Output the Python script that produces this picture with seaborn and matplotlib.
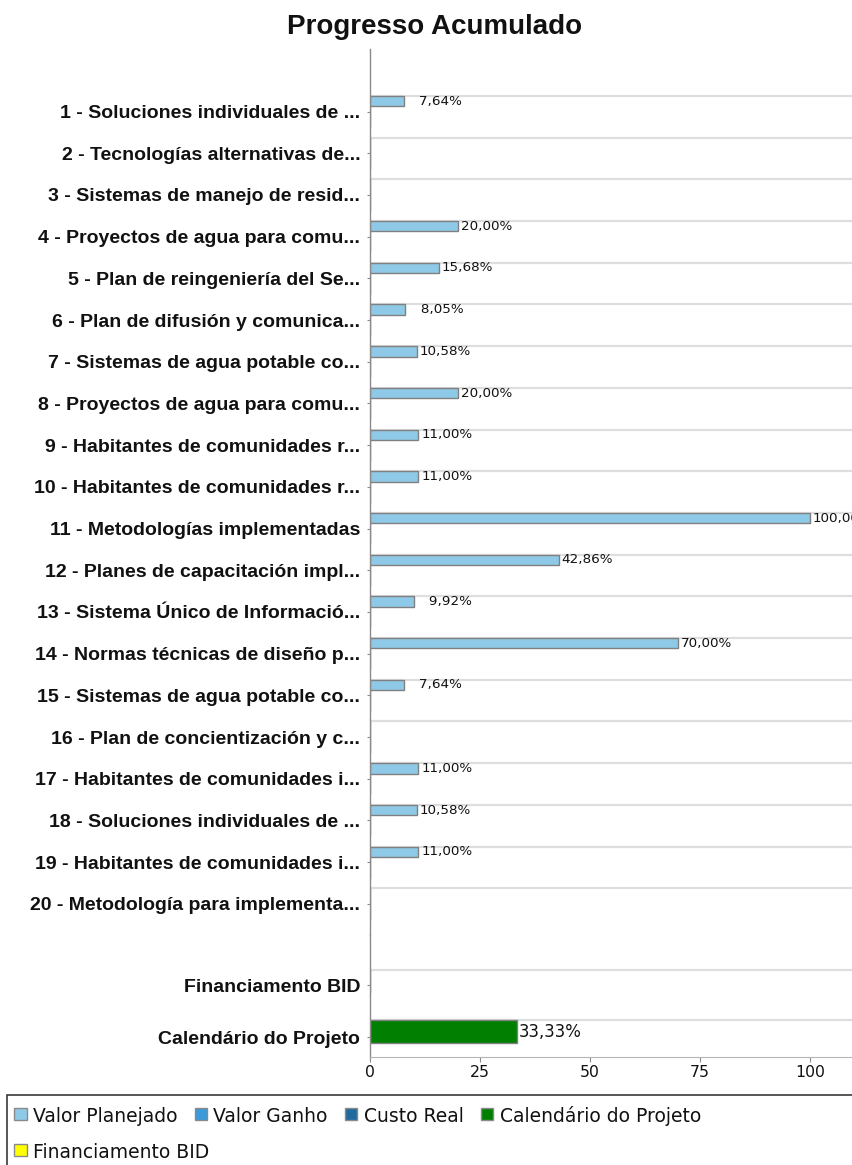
import numpy as np
import pandas as pd
import matplotlib
matplotlib.use("Agg")
import matplotlib.pyplot as plt
from matplotlib.patches import Rectangle
import seaborn as sns

# ---------------- data ----------------
categories = [
    "1 - Soluciones individuales de ...",
    "2 - Tecnologías alternativas de...",
    "3 - Sistemas de manejo de resid...",
    "4 - Proyectos de agua para comu...",
    "5 - Plan de reingeniería del Se...",
    "6 - Plan de difusión y comunica...",
    "7 - Sistemas de agua potable co...",
    "8 - Proyectos de agua para comu...",
    "9 - Habitantes de comunidades r...",
    "10 - Habitantes de comunidades r...",
    "11 - Metodologías implementadas",
    "12 - Planes de capacitación impl...",
    "13 - Sistema Único de Informació...",
    "14 - Normas técnicas de diseño p...",
    "15 - Sistemas de agua potable co...",
    "16 - Plan de concientización y c...",
    "17 - Habitantes de comunidades i...",
    "18 - Soluciones individuales de ...",
    "19 - Habitantes de comunidades i...",
    "20 - Metodología para implementa...",
]
valor_planejado = [7.64, 0, 0, 20.00, 15.68, 8.05, 10.58, 20.00, 11.00, 11.00,
                   100.00, 42.86, 9.92, 70.00, 7.64, 0, 11.00, 10.58, 11.00, 0]
valor_ganho = [0, 0, 0, 0, 0, 0, 0, 0, 0, 0, 0, 0, 0, 0, 0, 0, 0, 0, 0, 0]
custo_real = [0, 0, 0, 0, 0, 0, 0, 0, 0, 0, 0, 0, 0, 0, 0, 0, 0, 0, 0, 0]
series_names = ["Valor Planejado", "Valor Ganho", "Custo Real"]

bid_label = ["Financiamento BID"]
bid_value = [0]
calendario_label = ["Calendário do Projeto"]
calendario_value = [33.33]

x_ticks = [0, 25, 50, 75, 100]
title = "Progresso Acumulado"

# ---------------- style ----------------
col_planejado = "#8ecae8"
col_ganho = "#3b9ad9"
col_custo = "#1f6b9e"
col_cal = "#007f00"
col_bid = "#ffff00"
edge = "#808080"
grid_col = "#dedede"
spine_col = "#8a8a8a"

sns.set_style("white")
plt.rcParams["font.family"] = ["DejaVu Sans"]

W, H = 852, 1165
fig = plt.figure(figsize=(W / 100, H / 100), dpi=100)

def axpos(top, bottom, left=370, right=852):
    return [left / W, 1 - bottom / H, (right - left) / W, (bottom - top) / H]

ax1 = fig.add_axes(axpos(49, 935))
ax2 = fig.add_axes(axpos(935, 995))
ax3 = fig.add_axes(axpos(995, 1057))

XMAX = (852 - 370) / 4.4

# main subplot
df = pd.DataFrame({
    "categoria": categories * 3,
    "serie": [series_names[0]] * len(categories) + [series_names[1]] * len(categories)
             + [series_names[2]] * len(categories),
    "valor": valor_planejado + valor_ganho + custo_real,
})
sns.barplot(data=df, y="categoria", x="valor", hue="serie", hue_order=series_names,
            order=categories, palette=[col_planejado, col_ganho, col_custo],
            orient="h", width=0.75, dodge=True, saturation=1, errorbar=None,
            edgecolor=edge, linewidth=1, legend=False, ax=ax1)

def fmt(v):
    if v == 0:
        return ""
    s = f"{v:.2f}".replace(".", ",") + "%"
    if v < 10:
        s = "\u2007 " + s
    return s

ax1.bar_label(ax1.containers[0], labels=[fmt(v) for v in valor_planejado],
              padding=2, fontsize=9.7, color="#111111")

n = len(categories)
ax1.set_ylim(n - 1 + 0.746, -1.501)
ax1.set_yticks(np.arange(n) - 0.375, minor=True)

sns.barplot(x=bid_value, y=bid_label, color=col_bid, orient="h", width=0.5,
            saturation=1, errorbar=None, edgecolor=edge, linewidth=1, ax=ax2)
ax2.set_ylim(0.293, -1.011)
ax2.set_yticks([0.076], bid_label)
ax2.set_yticks([-0.25], minor=True)

sns.barplot(x=calendario_value, y=calendario_label, color=col_cal, orient="h", width=0.5,
            saturation=1, errorbar=None, edgecolor=edge, linewidth=1, ax=ax3)
ax3.bar_label(ax3.containers[0],
              labels=[f"{v:.2f}".replace(".", ",") + "%" for v in calendario_value],
              padding=1.5, fontsize=11.9, color="#111111")
ax3.set_ylim(0.554, -0.793)
ax3.set_yticks([0.12], calendario_label)
ax3.set_yticks([-0.25], minor=True)

for ax in (ax1, ax2, ax3):
    ax.set_xlim(0, XMAX)
    ax.set_xlabel("")
    ax.set_ylabel("")
    ax.set_facecolor("white")
    ax.grid(False)
    ax.grid(which="minor", axis="y", color=grid_col, lw=1.6)
    ax.set_axisbelow(True)
    for s in ("top", "right", "bottom"):
        ax.spines[s].set_visible(False)
    ax.spines["left"].set_color(spine_col)
    ax.spines["left"].set_linewidth(1)
    ax.tick_params(axis="y", which="major", left=True, length=2.5, width=0.8,
                   color=spine_col, pad=4.5)
    ax.tick_params(axis="y", which="minor", left=False, length=0)
    for lbl in ax.get_yticklabels():
        lbl.set_fontfamily(["Liberation Sans", "DejaVu Sans"])
        lbl.set_fontweight("bold")
        lbl.set_fontsize(14.0)
        lbl.set_color("#111111")
    if ax is not ax3:
        ax.tick_params(axis="x", bottom=False, labelbottom=False)

ax3.spines["bottom"].set_visible(True)
ax3.spines["bottom"].set_color("#b5b5b5")
ax3.set_xticks(x_ticks)
ax3.tick_params(axis="x", bottom=True, length=3.6, width=0.8, color=spine_col,
                labelsize=11.3, pad=2, labelcolor="#111111")

# title
fig.text(435 / W, 1 - 27 / H, title, ha="center", va="center", fontsize=20,
         fontweight="bold", family=["Liberation Sans", "DejaVu Sans"], color="#111111")

# legend (custom, JFreeChart style)
def fx(x):
    return x / W

def fy(y):
    return 1 - y / H

fig.patches.append(Rectangle((fx(7), fy(1185)), (875 - 7) / W, (1185 - 1095) / H,
                             transform=fig.transFigure, fill=False, edgecolor="#3a3a3a",
                             lw=1.2, clip_on=False))
legend_rows = [
    [(series_names[0], col_planejado), (series_names[1], col_ganho),
     (series_names[2], col_custo), (calendario_label[0], col_cal)],
    [(bid_label[0], col_bid)],
]
row_y = [1114, 1150]
renderer = fig.canvas.get_renderer()
sw = 12.5
for row, yc in zip(legend_rows, row_y):
    x = 14
    for name, c in row:
        fig.patches.append(Rectangle((fx(x), fy(yc + sw / 2)), sw / W, sw / H,
                                     transform=fig.transFigure, facecolor=c,
                                     edgecolor="#8a8a8a", lw=1))
        t = fig.text(fx(x + 19), fy(yc), name, ha="left", va="center_baseline",
                     fontsize=13.5, color="#111111")
        bb = t.get_window_extent(renderer=renderer)
        x = bb.x1 + 17

fig.savefig("out.png", dpi=100, facecolor="white")
